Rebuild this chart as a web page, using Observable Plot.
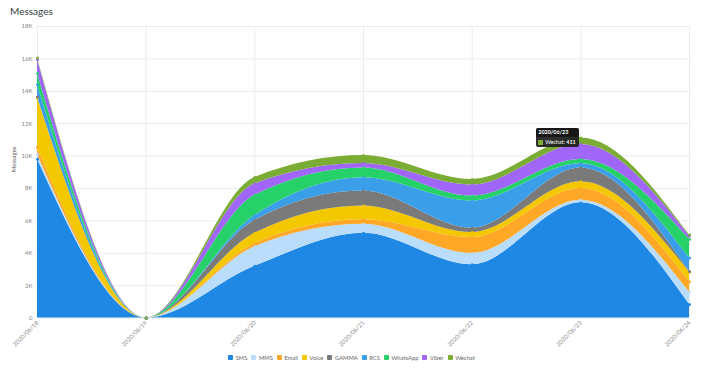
<!DOCTYPE html>
<html>
<head>
<meta charset="utf-8">
<script src="https://cdn.jsdelivr.net/npm/d3@7"></script>
<script src="https://cdn.jsdelivr.net/npm/@observablehq/plot@0.6"></script>
<style>
  body { margin: 0; background: #fff; font-family: Lato, "Open Sans", sans-serif; }
  #wrap { position: relative; width: 703px; height: 373px; overflow: hidden; }
  #title { height: 20px; line-height: 22px; padding-left: 10px; font-size: 10px; color: #373d3f; }
  #chart svg { display: block; overflow: visible; }
  #legend { display: flex; justify-content: center; align-items: center; margin-top: 3px; height: 9px; font-size: 5.8px; color: #666; white-space: nowrap; }
  .item { display: flex; align-items: center; margin: 0 2px; }
  .sw { width: 5px; height: 5px; border-radius: 1px; margin-right: 2.5px; }
  #tip { position: absolute; background: rgba(28,28,28,0.92); border-radius: 2px; color: #fff; font-size: 5.4px; overflow: hidden; white-space: nowrap; }
  #tip .hd { background: rgba(0,0,0,0.5); padding: 1.5px 2px; font-weight: bold; height: 6.5px; line-height: 6.5px; }
  #tip .rw { display: flex; align-items: center; padding: 1.5px 3px 1.5px 2px; height: 7px; }
  #tip .rw .sw { width: 5px; height: 5px; margin-right: 2px; border-radius: 0; }
</style>
</head>
<body>
<div id="wrap">
  <div id="title">Messages</div>
  <div id="chart"></div>
  <div id="legend"></div>
</div>
<script>
const dates = ["2020-06-18","2020-06-19","2020-06-20","2020-06-21","2020-06-22","2020-06-23","2020-06-24"];
const series = ["SMS","MMS","Email","Voice","GAMMA","RCS","WhatsApp","Viber","Wechat"];
const colors = ["#1f88e5","#b9ddfb","#ffa726","#f4c800","#7a7a7a","#3a9fe8","#27d16a","#a066f8","#7bad35"];
const sms      = [9800, 0, 3200, 5240, 3290, 7120, 830];
const mms      = [300,  0, 1200, 550,  700,  150,  760];
const email    = [450,  0, 180,  270,  980,  730,  650];
const voice    = [3050, 0, 650,  860,  310,  410,  580];
const gamma    = [50,   0, 800,  920,  270,  860,  50];
const rcs      = [750,  0, 300,  820,  1680, 250,  830];
const whatsapp = [700,  0, 1250, 610,  300,  270,  1170];
const viber    = [850,  0, 700,  270,  680,  920,  200];
const wechat   = [100,  0, 400,  500,  350,  411,  60];
const yTicks = [0,2000,4000,6000,8000,10000,12000,14000,16000,18000];

const values = [sms, mms, email, voice, gamma, rcs, whatsapp, viber, wechat];
const parsed = dates.map(d => new Date(d + "T00:00:00Z"));
const rows = [];
parsed.forEach((d, i) => {
  series.forEach((s, j) => rows.push({date: d, series: s, value: values[j][i]}));
});

const chart = Plot.plot({
  width: 703,
  height: 330,
  marginTop: 6,
  marginLeft: 37,
  marginRight: 14,
  marginBottom: 32.5,
  style: {fontSize: "6px", fontFamily: "Lato, 'Open Sans', sans-serif", color: "#888", background: "transparent", overflow: "visible"},
  x: {type: "utc", domain: [parsed[0], parsed[parsed.length - 1]], ticks: parsed, tickFormat: d3.utcFormat("%Y/%m/%d"), tickRotate: -45, tickSize: 0, tickPadding: 4, label: null},
  y: {domain: [0, 18000], ticks: yTicks, tickFormat: d => d === 0 ? "0" : (d / 1000) + "K", tickSize: 0, tickPadding: 5, label: null},
  color: {domain: series, range: colors},
  marks: [
    Plot.ruleY(yTicks, {y: d => d, stroke: "#ececec"}),
    Plot.ruleX(parsed, {x: d => d, stroke: "#ececec"}),
    Plot.areaY(rows, Plot.stackY({x: "date", y: "value", z: "series", fill: "series", order: series, curve: "monotone-x"})),
    Plot.dot(rows, Plot.stackY2({x: "date", y: "value", z: "series", fill: "series", order: series, r: 1.5})),
    Plot.text(["Messages"], {text: d => d, frameAnchor: "left", rotate: -90, dx: -23, fontSize: 6, fill: "#555"})
  ]
});
document.getElementById("chart").appendChild(chart);

const legend = document.getElementById("legend");
series.forEach((s, i) => {
  const it = document.createElement("div");
  it.className = "item";
  it.innerHTML = `<span class="sw" style="background:${colors[i]}"></span><span>${s}</span>`;
  legend.appendChild(it);
});

// tooltip
const ti = 5;
const total = values.reduce((a, v) => a + v[ti], 0);
const px = chart.scale("x").apply(parsed[ti]);
const py = chart.scale("y").apply(total);
const tip = document.createElement("div");
tip.id = "tip";
tip.style.left = (px - 44) + "px";
tip.style.top = (20 + py - 9.5) + "px";
tip.innerHTML = `<div class="hd">${d3.utcFormat("%Y/%m/%d")(parsed[ti])}</div><div class="rw"><span class="sw" style="background:${colors[8]}"></span><span>${series[8]}: <b>${wechat[ti]}</b></span></div>`;
document.getElementById("wrap").appendChild(tip);
</script>
</body>
</html>
